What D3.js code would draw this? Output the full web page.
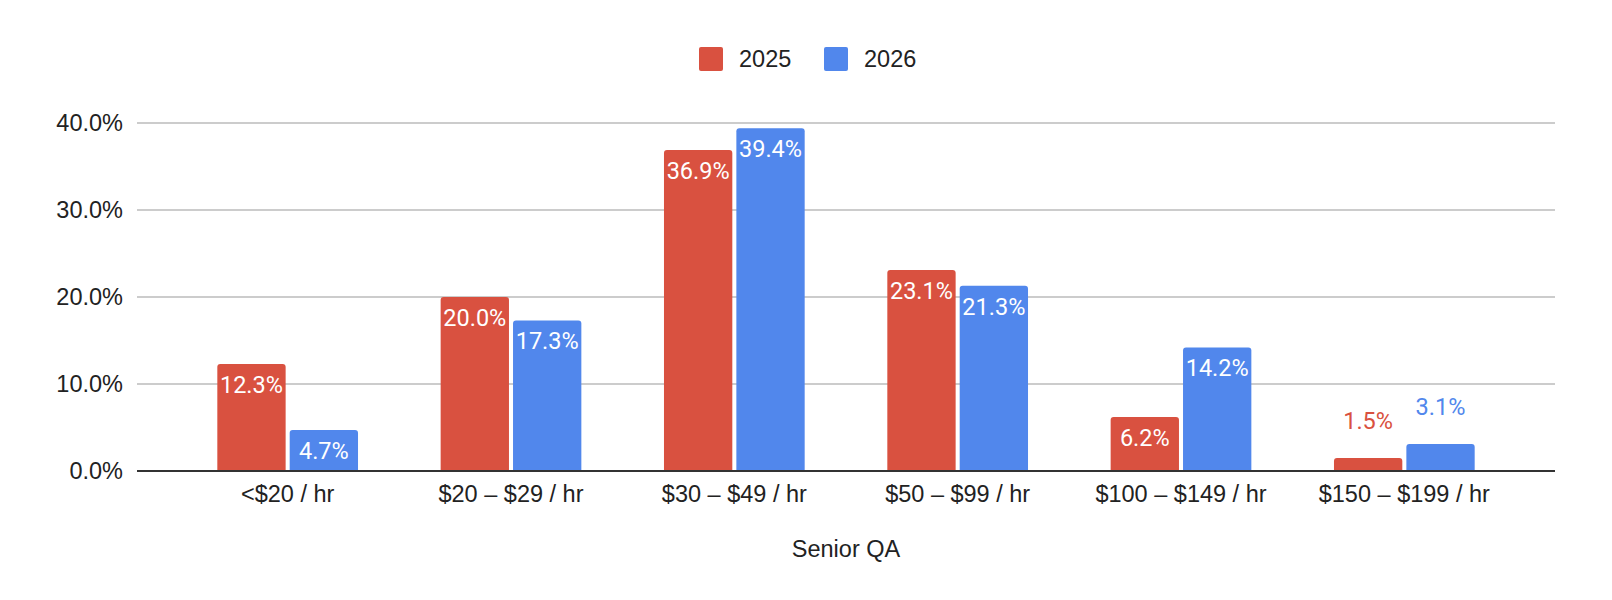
<!DOCTYPE html>
<html>
<head>
<meta charset="utf-8">
<script src="https://cdn.jsdelivr.net/npm/d3@7"></script>
<style>
  body { margin: 0; background: #fff; }
  svg { display: block; }
</style>
</head>
<body>
<div id="chart"></div>
<script>
var categories = ["<$20 / hr", "$20 – $29 / hr", "$30 – $49 / hr", "$50 – $99 / hr", "$100 – $149 / hr", "$150 – $199 / hr"];
var seriesNames = ["2025", "2026"];
var values2025 = [12.3, 20.0, 36.9, 23.1, 6.2, 1.5];
var values2026 = [4.7, 17.3, 39.4, 21.3, 14.2, 3.1];
var yTicks = [0, 10, 20, 30, 40];
var colors = ["#d95140", "#5187ec"];

var series = [values2025, values2026];

var svg = d3.select("#chart")
  .append("svg")
  .attr("width", 1612)
  .attr("height", 600);

var x = d3.scaleBand()
  .domain(categories)
  .range([176, 1516])
  .paddingInner(0.37)
  .paddingOuter(0.185);

var inner = d3.scaleBand()
  .domain(seriesNames)
  .range([0, x.bandwidth()])
  .paddingInner(0.056);

var y = d3.scaleLinear()
  .domain([0, 40])
  .range([471, 123]);

// gridlines
svg.append("g")
  .selectAll("line")
  .data(yTicks.filter(function (d) { return d > 0; }))
  .enter().append("line")
    .attr("x1", 137)
    .attr("x2", 1555)
    .attr("y1", function (d) { return y(d); })
    .attr("y2", function (d) { return y(d); })
    .attr("stroke", "#cccccc")
    .attr("stroke-width", 2);

// y tick labels
svg.append("g")
  .selectAll("text")
  .data(yTicks)
  .enter().append("text")
    .attr("x", 123)
    .attr("y", function (d) { return y(d) + 8; })
    .attr("text-anchor", "end")
    .style("font-family", "'Liberation Sans', Arial, sans-serif")
    .style("font-size", "23.5px")
    .style("fill", "#222")
    .text(function (d) { return d.toFixed(1) + "%"; });

function barPath(x0, w, top, bottom, r) {
  var h = bottom - top;
  r = Math.min(r, h, w / 2);
  return "M" + x0 + "," + bottom +
    "V" + (top + r) +
    "Q" + x0 + "," + top + " " + (x0 + r) + "," + top +
    "H" + (x0 + w - r) +
    "Q" + (x0 + w) + "," + top + " " + (x0 + w) + "," + (top + r) +
    "V" + bottom + "Z";
}

series.forEach(function (vals, si) {
  var g = svg.append("g");
  var bx = function (d, i) { return x(categories[i]) + inner(seriesNames[si]); };

  g.selectAll("path")
    .data(vals)
    .enter().append("path")
      .attr("d", function (d, i) {
        return barPath(bx(d, i), inner.bandwidth(), y(d), y(0), 3);
      })
      .attr("fill", colors[si]);

  g.selectAll("text")
    .data(vals)
    .enter().append("text")
      .attr("x", function (d, i) { return bx(d, i) + inner.bandwidth() / 2; })
      .attr("y", function (d) {
        var h = y(0) - y(d);
        return h >= 35 ? y(d) + 29 : y(d) - 29;
      })
      .attr("text-anchor", "middle")
      .style("font-family", "Roboto, sans-serif")
      .style("font-size", "23.5px")
      .style("fill", function (d) {
        return (y(0) - y(d)) >= 35 ? "#ffffff" : colors[si];
      })
      .text(function (d) { return d.toFixed(1) + "%"; });
});

// baseline
svg.append("line")
  .attr("x1", 137)
  .attr("x2", 1555)
  .attr("y1", y(0))
  .attr("y2", y(0))
  .attr("stroke", "#333333")
  .attr("stroke-width", 2);

// category labels
svg.append("g")
  .selectAll("text")
  .data(categories)
  .enter().append("text")
    .attr("x", function (d) { return x(d) + x.bandwidth() / 2; })
    .attr("y", 502)
    .attr("text-anchor", "middle")
    .style("font-family", "'Liberation Sans', Arial, sans-serif")
    .style("font-size", "23.5px")
    .style("fill", "#222")
    .text(function (d) { return d; });

// axis title
svg.append("text")
  .attr("x", 846)
  .attr("y", 557)
  .attr("text-anchor", "middle")
  .style("font-family", "'Liberation Sans', Arial, sans-serif")
  .style("font-size", "23.5px")
  .style("fill", "#222")
  .text("Senior QA");

// legend
var legendX = [699, 824];
var legend = svg.append("g");
seriesNames.forEach(function (name, i) {
  legend.append("rect")
    .attr("x", legendX[i])
    .attr("y", 47)
    .attr("width", 24)
    .attr("height", 24)
    .attr("rx", 2)
    .attr("fill", colors[i]);
  legend.append("text")
    .attr("x", legendX[i] + 40)
    .attr("y", 67)
    .style("font-family", "'Liberation Sans', Arial, sans-serif")
    .style("font-size", "23.5px")
    .style("fill", "#222")
    .text(name);
});
</script>
</body>
</html>
